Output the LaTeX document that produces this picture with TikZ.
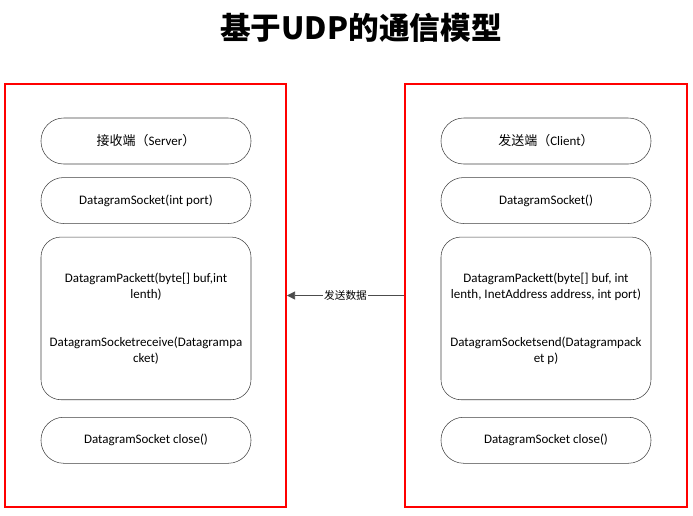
\documentclass[tikz,border=0pt]{standalone}
\usepackage{fontspec}
\setmainfont{Carlito}
\newfontfamily\cjk{Noto Sans CJK SC}
\usetikzlibrary{positioning, arrows.meta}

\begin{document}
\begin{tikzpicture}[
				x=0.75pt, y=-0.75pt,
				>={Triangle[length=6pt, width=6pt]},
				font=\fontsize{9.75pt}{12pt}\selectfont,
				frame/.style={
					rectangle, draw=red, line width=1.5pt,
					minimum height=317.25pt
				},
				pill/.style={
					rectangle, draw=black!75, rounded corners=17pt,
					minimum width=157.5pt, minimum height=34.5pt, align=center
				},
				block/.style={
					rectangle, draw=black!75, rounded corners=15pt,
					minimum width=157.5pt, minimum height=122pt, align=center
				},
				arrow/.style={->, draw=black!70}
				]
				\useasboundingbox (0,0) rectangle (693,515);
				
				% Title
				\node[font=\cjk\bfseries\fontsize{23pt}{26pt}\selectfont] (title) at (361,28) {基于UDP的通信模型};
				
				% Frames
				\node[frame, minimum width=210.75pt] (srvframe) at (145.5,295.5) {};
				\node[frame, minimum width=211.5pt] (cliframe) at (546,295.5) {};
				
				% Receiver side
				\node[pill] (srv) at (146,141) {{\cjk 接收端（}Server{\cjk ）}};
				\node[pill, below=9.75pt of srv] (srvsock) {DatagramSocket(int port)};
				\node[block, below=9.75pt of srvsock] (srvpack) {DatagramPackett(byte[] buf,int\\lenth)\\[24pt]DatagramSocketreceive(Datagrampa\\cket)};
				\node[pill, below=12.75pt of srvpack] (srvclose) {DatagramSocket close()};
				
				% Sender side
				\node[pill] (cli) at (546,141) {{\cjk 发送端（}Client{\cjk ）}};
				\node[pill, below=9.75pt of cli] (clisock) {DatagramSocket()};
				\node[block, below=9.75pt of clisock] (clipack) {DatagramPackett(byte[] buf, int\\lenth, InetAddress address, int port)\\[24pt]DatagramSocketsend(Datagrampack\\et p)};
				\node[pill, below=12.75pt of clipack] (cliclose) {DatagramSocket close()};
				
				% Data flow
				\draw[arrow] (cliframe.west) -- node[fill=white, inner sep=1pt, font=\cjk\fontsize{8pt}{10pt}\selectfont] (sendlbl) {发送数据} (srvframe.east);
				
			\end{tikzpicture}
\end{document}
